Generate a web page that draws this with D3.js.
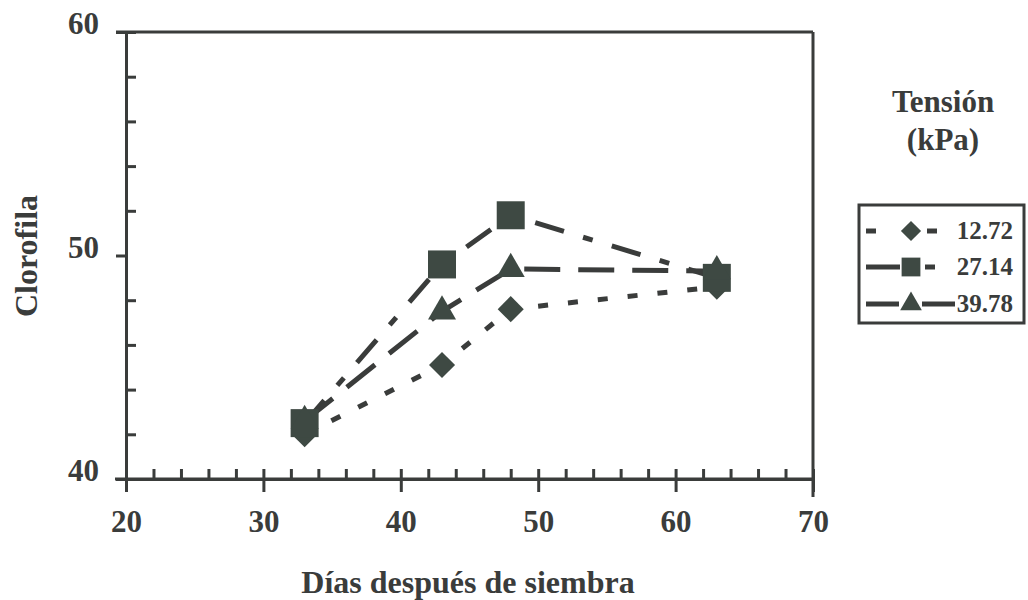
<!DOCTYPE html>
<html>
<head>
<meta charset="utf-8">
<script src="https://d3js.org/d3.v7.min.js"></script>
<style>
body { margin: 0; background: #fff; }
text { font-family: "Liberation Serif", "Times New Roman", serif; font-weight: bold; fill: #3a3c3b; }
</style>
</head>
<body>
<script>
//values
var days = [33, 43, 48, 63];
var serie1272 = [42.0, 45.1, 47.6, 48.6];
var serie2714 = [42.5, 49.6, 51.8, 49.0];
var serie3978 = [42.6, 47.5, 49.4, 49.3];
var tensionLabels = ["12.72", "27.14", "39.78"];
var xTicks = [20, 30, 40, 50, 60, 70];
var yTicks = [40, 50, 60];

var width = 1028;
var height = 600;
var ink = "#3a3c3b";
var markFill = "#3e4943";

const svg = d3.select("body")
.append("svg")
.attr("width", width)
.attr("height", height);

var xscale = d3.scaleLinear()
.domain([20, 70])
.range([126, 813]);

var yscale = d3.scaleLinear()
.domain([40, 60])
.range([479, 32]);

//minor ticks every 2 units, inside the box
var xMinor = d3.axisTop(xscale)
.tickValues(d3.range(22, 70, 2))
.tickSize(10)
.tickFormat("");

var yMinor = d3.axisRight(yscale)
.tickValues(d3.range(42, 60, 2).filter(d => d != 50))
.tickSize(10)
.tickFormat("");

//major ticks outside, with labels
var xAxis = d3.axisBottom(xscale)
.tickValues(xTicks)
.tickSize(13)
.tickPadding(18)
.tickSizeOuter(0);

var yAxis = d3.axisLeft(yscale)
.tickValues(yTicks)
.tickSize(10)
.tickPadding(17)
.tickSizeOuter(0);

var gxm = svg.append("g")
.attr("transform", "translate(0," + yscale(40) + ")")
.call(xMinor);

var gym = svg.append("g")
.attr("transform", "translate(" + xscale(20) + ",0)")
.call(yMinor);

var gx = svg.append("g")
.attr("transform", "translate(0," + yscale(40) + ")")
.call(xAxis);

var gy = svg.append("g")
.attr("transform", "translate(" + xscale(20) + ",0)")
.call(yAxis);

[gxm, gym, gx, gy].forEach(function(g) {
  g.selectAll("path, line").attr("stroke", ink).attr("stroke-width", 3);
});
gx.select(".domain").attr("d", "M" + (xscale(20) - 11) + ",0H" + xscale(70));

gx.selectAll("text")
.attr("font-size", 31)
.attr("fill", ink)
.attr("font-family", "Liberation Serif")
.attr("font-weight", "bold");

gy.selectAll("text")
.attr("font-size", 31)
.attr("fill", ink)
.attr("dy", "0.05em")
.attr("font-family", "Liberation Serif")
.attr("font-weight", "bold");

//top and right border of the plot box
svg.append("line")
.attr("x1", xscale(20) - 10).attr("x2", xscale(70))
.attr("y1", yscale(60)).attr("y2", yscale(60))
.attr("stroke", ink).attr("stroke-width", 3);

svg.append("line")
.attr("x1", xscale(70)).attr("x2", xscale(70))
.attr("y1", yscale(60)).attr("y2", yscale(40) + 18)
.attr("stroke", ink).attr("stroke-width", 3);

//series: values, dash pattern and marker
var series = [
  { name: tensionLabels[0], values: serie1272, dash: "10,20", symbol: "diamond" },
  { name: tensionLabels[1], values: serie2714, dash: "30,20,10,20", symbol: "square" },
  { name: tensionLabels[2], values: serie3978, dash: "36,18", symbol: "triangle" }
];

function markerPath(kind, scale) {
  if (kind == "square") return d3.symbol(d3.symbolSquare, 784 * scale)();
  if (kind == "triangle") return d3.symbol(d3.symbolTriangle, 340 * scale)();
  return d3.symbol(d3.symbolSquare, 340 * scale)();
}

var line = d3.line()
.x((d, i) => xscale(days[i]))
.y(d => yscale(d));

svg.selectAll(".serie")
.data(series)
.enter()
.append("path")
.attr("class", "serie")
.attr("d", d => line(d.values))
.attr("fill", "none")
.attr("stroke", ink)
.attr("stroke-width", 5)
.attr("stroke-dasharray", d => d.dash);

series.forEach(function(s) {
  svg.selectAll(".m" + s.symbol)
  .data(s.values)
  .enter()
  .append("path")
  .attr("class", "m" + s.symbol)
  .attr("d", markerPath(s.symbol, 1))
  .attr("transform", (d, i) => "translate(" + xscale(days[i]) + "," + yscale(d) + ")" + (s.symbol == "diamond" ? " rotate(45)" : ""))
  .attr("fill", markFill);
});

//axis titles
svg.append("text")
.attr("transform", "translate(37,256) rotate(-90)")
.attr("text-anchor", "middle")
.attr("font-size", 32)
.text("Clorofila");

svg.append("text")
.attr("x", 468)
.attr("y", 593)
.attr("text-anchor", "middle")
.attr("font-size", 32)
.text("Días después de siembra");

//legend
svg.append("text")
.attr("x", 943).attr("y", 112)
.attr("text-anchor", "middle")
.attr("font-size", 31)
.text("Tensión");

svg.append("text")
.attr("x", 943).attr("y", 150)
.attr("text-anchor", "middle")
.attr("font-size", 31)
.text("(kPa)");

svg.append("rect")
.attr("x", 859).attr("y", 205)
.attr("width", 165).attr("height", 118)
.attr("fill", "none")
.attr("stroke", ink)
.attr("stroke-width", 3);

var legendY = [231, 267, 304];
var legendDash = [
  [[866, 876], [927, 937]],
  [[866, 900], [925, 935]],
  [[866, 899], [922, 955]]
];

var lg = svg.selectAll(".legend")
.data(series)
.enter()
.append("g")
.attr("class", "legend")
.attr("transform", (d, i) => "translate(0," + legendY[i] + ")");

lg.each(function(d, i) {
  var g = d3.select(this);
  legendDash[i].forEach(function(seg) {
    g.append("line")
    .attr("x1", seg[0]).attr("x2", seg[1])
    .attr("y1", 0).attr("y2", 0)
    .attr("stroke", ink)
    .attr("stroke-width", 5);
  });
  g.append("path")
  .attr("d", markerPath(d.symbol, d.symbol == "square" ? 0.45 : 0.6))
  .attr("transform", "translate(911,0)" + (d.symbol == "diamond" ? " rotate(45)" : ""))
  .attr("fill", markFill);
  g.append("text")
  .attr("x", 1013)
  .attr("y", 8)
  .attr("text-anchor", "end")
  .attr("font-size", 25)
  .text(d.name);
});
</script>
</body>
</html>
